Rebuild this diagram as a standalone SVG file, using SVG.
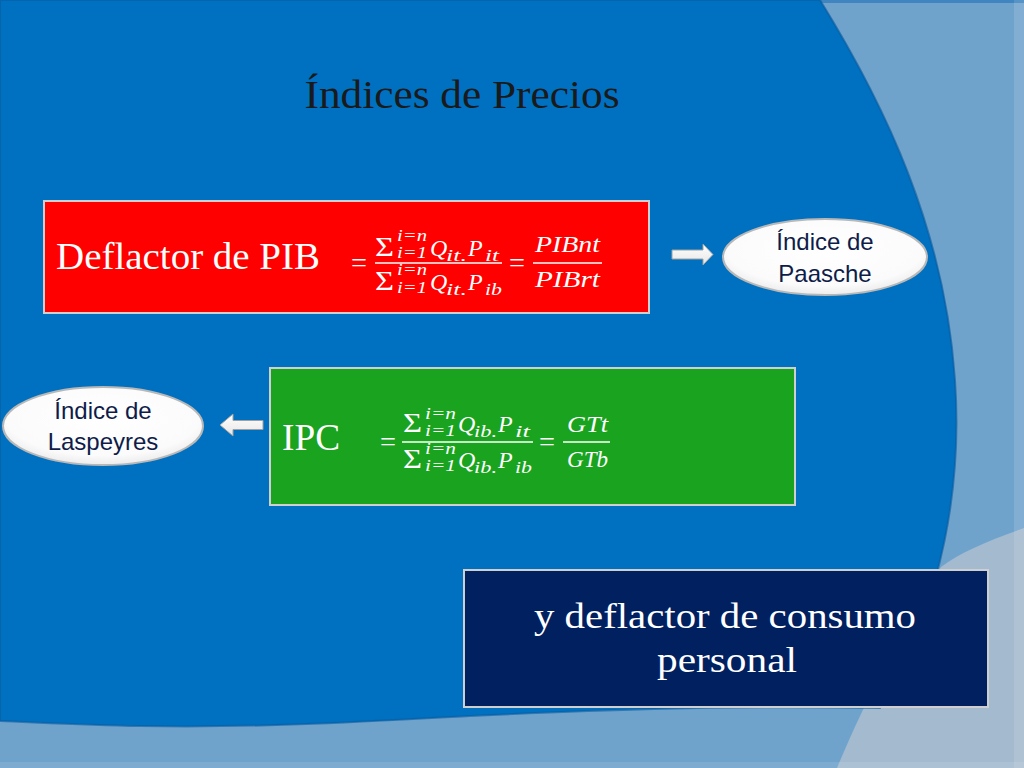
<svg xmlns="http://www.w3.org/2000/svg" width="1024" height="768" viewBox="0 0 1024 768">
<defs>
<style>
.ttl{font-family:"Liberation Serif","Times New Roman",serif;fill:#1a1a1a}
.big{font-family:"Liberation Serif","Times New Roman",serif;fill:#ffffff}
.m{font-family:"Liberation Serif","Times New Roman",serif;font-style:italic;fill:#ffffff;font-size:24px}
.s{font-family:"Liberation Serif","Times New Roman",serif;font-style:italic;fill:#ffffff;font-size:17px}
.op{font-family:"Liberation Serif","Times New Roman",serif;fill:#ffffff;font-size:27px}
.sig{font-family:"Liberation Serif","Times New Roman",serif;fill:#ffffff;font-size:27px}
.bar{stroke:#ffffff;stroke-width:1.5}
.box{stroke:#cfcfcf;stroke-width:2}
.ell{fill:url(#eg);stroke:#b8b8b8;stroke-width:2}
.et{font-family:"Liberation Sans",Arial,sans-serif;font-size:24px;fill:#0f1c4a;text-anchor:middle}
.arr{fill:url(#ag);stroke:#a0a0a0;stroke-width:1}
</style>
<radialGradient id="eg" cx="50%" cy="40%" r="60%">
<stop offset="0" stop-color="#ffffff"/>
<stop offset="0.8" stop-color="#fbfbfb"/>
<stop offset="1" stop-color="#ececec"/>
</radialGradient>
<linearGradient id="ag" x1="0" y1="0" x2="0" y2="1">
<stop offset="0" stop-color="#ffffff"/>
<stop offset="1" stop-color="#e6e6e6"/>
</linearGradient>
</defs>

<g id="background">
<rect x="0" y="0" width="1024" height="768" fill="#70a3cc"/>
<rect x="0" y="0" width="1024" height="3" fill="#3f86c1"/>
<path d="M1024,528 C990,540 960,552 941,567 C905,625 865,700 837,768 L1024,768 Z" fill="#a3bacf"/>
<rect x="1014" y="0" width="10" height="768" fill="#ffffff" opacity="0.12"/>
<rect x="0" y="762" width="1024" height="6" fill="#ffffff" opacity="0.1"/>
<path d="M0,0 L820,0 C885,105 945,230 955,380 C962,480 945,600 880,708 C700,705 560,712 470,716 C360,722 260,728 140,726 C80,725 30,722 0,721 Z" fill="#0070c0" stroke="#0a5c9e" stroke-width="2" stroke-opacity="0.6"/>
</g>

<g id="title">
<text class="ttl" x="462" y="108" font-size="40" text-anchor="middle" textLength="315" lengthAdjust="spacingAndGlyphs">Índices de Precios</text>
</g>

<g id="node-deflactor-pib">
<rect class="box" x="44" y="201" width="605" height="112" fill="#ff0000"/>
<text class="big" x="56" y="269" font-size="38" textLength="264" lengthAdjust="spacingAndGlyphs">Deflactor de PIB</text>
<text class="op" x="351" y="272" textLength="16" lengthAdjust="spacingAndGlyphs">=</text>
<text class="sig" x="375" y="256" textLength="19" lengthAdjust="spacingAndGlyphs">Σ</text>
<text class="s" x="397" y="241" textLength="30" lengthAdjust="spacingAndGlyphs">i=n</text>
<text class="s" x="397" y="258" textLength="30" lengthAdjust="spacingAndGlyphs">i=1</text>
<text class="m" x="430" y="256">Q</text>
<text class="s" x="446" y="261" textLength="21" lengthAdjust="spacingAndGlyphs">it.</text>
<text class="m" x="468" y="256">P</text>
<text class="s" x="485" y="261" textLength="14" lengthAdjust="spacingAndGlyphs">it</text>
<line class="bar" x1="375" y1="263" x2="502" y2="263"/>
<text class="sig" x="375" y="290" textLength="19" lengthAdjust="spacingAndGlyphs">Σ</text>
<text class="s" x="397" y="275" textLength="30" lengthAdjust="spacingAndGlyphs">i=n</text>
<text class="s" x="397" y="293" textLength="30" lengthAdjust="spacingAndGlyphs">i=1</text>
<text class="m" x="430" y="290">Q</text>
<text class="s" x="446" y="295" textLength="21" lengthAdjust="spacingAndGlyphs">it.</text>
<text class="m" x="468" y="290">P</text>
<text class="s" x="485" y="295" textLength="17" lengthAdjust="spacingAndGlyphs">ib</text>
<text class="op" x="509" y="272" textLength="16" lengthAdjust="spacingAndGlyphs">=</text>
<text class="m" x="535" y="252" textLength="65" lengthAdjust="spacingAndGlyphs">PIBnt</text>
<line class="bar" x1="533" y1="263" x2="602" y2="263"/>
<text class="m" x="535" y="287" textLength="65" lengthAdjust="spacingAndGlyphs">PIBrt</text>
</g>

<g id="node-ipc">
<rect class="box" x="270" y="368" width="525" height="137" fill="#19a31f"/>
<text class="big" x="282" y="450" font-size="38" textLength="58" lengthAdjust="spacingAndGlyphs">IPC</text>
<text class="op" x="380" y="451" textLength="16" lengthAdjust="spacingAndGlyphs">=</text>
<text class="sig" x="403" y="432" textLength="19" lengthAdjust="spacingAndGlyphs">Σ</text>
<text class="s" x="425" y="419" textLength="31" lengthAdjust="spacingAndGlyphs">i=n</text>
<text class="s" x="425" y="436" textLength="31" lengthAdjust="spacingAndGlyphs">i=1</text>
<text class="m" x="458" y="432">Q</text>
<text class="s" x="474" y="437" textLength="23" lengthAdjust="spacingAndGlyphs">ib.</text>
<text class="m" x="498" y="432">P</text>
<text class="s" x="515" y="437" textLength="15" lengthAdjust="spacingAndGlyphs">it</text>
<line class="bar" x1="402" y1="442" x2="533" y2="442"/>
<text class="sig" x="403" y="468" textLength="19" lengthAdjust="spacingAndGlyphs">Σ</text>
<text class="s" x="425" y="454" textLength="31" lengthAdjust="spacingAndGlyphs">i=n</text>
<text class="s" x="425" y="471" textLength="31" lengthAdjust="spacingAndGlyphs">i=1</text>
<text class="m" x="458" y="468">Q</text>
<text class="s" x="474" y="473" textLength="23" lengthAdjust="spacingAndGlyphs">ib.</text>
<text class="m" x="498" y="468">P</text>
<text class="s" x="515" y="473" textLength="17" lengthAdjust="spacingAndGlyphs">ib</text>
<text class="op" x="539" y="451" textLength="16" lengthAdjust="spacingAndGlyphs">=</text>
<text class="m" x="567" y="432" textLength="41" lengthAdjust="spacingAndGlyphs">GTt</text>
<line class="bar" x1="563" y1="442" x2="610" y2="442"/>
<text class="m" x="567" y="467" textLength="41" lengthAdjust="spacingAndGlyphs">GTb</text>
</g>

<g id="node-consumo">
<rect class="box" x="464" y="570" width="524" height="137" fill="#002060"/>
<text class="big" x="725" y="628" font-size="36" text-anchor="middle" textLength="382" lengthAdjust="spacingAndGlyphs">y deflactor de consumo</text>
<text class="big" x="727" y="672" font-size="36" text-anchor="middle" textLength="140" lengthAdjust="spacingAndGlyphs">personal</text>
</g>

<g id="node-paasche">
<ellipse class="ell" cx="825" cy="257" rx="102" ry="38"/>
<text class="et" x="825" y="250">Índice de</text>
<text class="et" x="825" y="282">Paasche</text>
</g>

<g id="node-laspeyres">
<ellipse class="ell" cx="103" cy="426" rx="100" ry="39"/>
<text class="et" x="103" y="419">Índice de</text>
<text class="et" x="103" y="450">Laspeyres</text>
</g>

<g id="connectors">
<path class="arr" d="M672,250 L703,250 L703,244 L713,254.5 L703,265 L703,259 L672,259 Z"/>
<path class="arr" d="M263,420.5 L233,420.5 L233,414 L220,425 L233,436 L233,429.5 L263,429.5 Z"/>
</g>
</svg>
